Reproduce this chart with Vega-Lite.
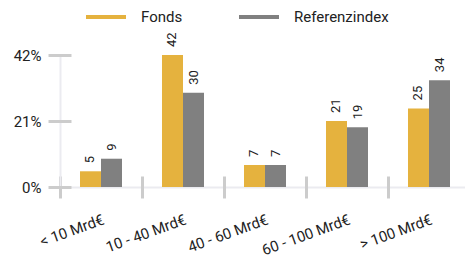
{
  "$schema": "https://vega.github.io/schema/vega-lite/v6.json",
  "autosize": "none",
  "padding": {"left": 60, "top": 55, "right": 0, "bottom": 68},
  "width": 410,
  "height": 132,
  "background": "white",
  "config": {
    "view": {"stroke": null},
    "font": "Roboto",
    "axis": {"grid": false}
  },
  "data": {
    "values": [
      {"cat": "< 10 Mrd€", "series": "Fonds", "value": 5},
      {"cat": "< 10 Mrd€", "series": "Referenzindex", "value": 9},
      {"cat": "10 - 40 Mrd€", "series": "Fonds", "value": 42},
      {"cat": "10 - 40 Mrd€", "series": "Referenzindex", "value": 30},
      {"cat": "40 - 60 Mrd€", "series": "Fonds", "value": 7},
      {"cat": "40 - 60 Mrd€", "series": "Referenzindex", "value": 7},
      {"cat": "60 - 100 Mrd€", "series": "Fonds", "value": 21},
      {"cat": "60 - 100 Mrd€", "series": "Referenzindex", "value": 19},
      {"cat": "> 100 Mrd€", "series": "Fonds", "value": 25},
      {"cat": "> 100 Mrd€", "series": "Referenzindex", "value": 34}
    ]
  },
  "encoding": {
    "x": {"field": "cat", "type": "nominal", "sort": null,
          "scale": {"paddingInner": 0, "paddingOuter": 0}},
    "xOffset": {"field": "series", "type": "nominal",
                "scale": {"paddingInner": 0, "paddingOuter": 0.952}},
    "y": {"field": "value", "type": "quantitative",
          "scale": {"domain": [0, 42], "nice": false}}
  },
  "layer": [
    {
      "mark": {"type": "bar"},
      "encoding": {
        "x": {"field": "cat", "type": "nominal", "sort": null, "title": null,
              "axis": {"orient": "bottom", "ticks": false, "tickSize": 0, "domainColor": "#ebebf0", "domainWidth": 2,
                       "labelAngle": -20, "labelAlign": "right", "labelBaseline": "top",
                       "labelPadding": 25, "labelFont": "Roboto", "labelFontSize": 15,
                       "labelOverlap": false, "labelColor": "#222222"}},
        "y": {"field": "value", "type": "quantitative", "title": null,
              "axis": {"orient": "left", "ticks": false, "tickSize": 0, "values": [0, 21, 42],
                       "labelExpr": "datum.value + '%'", "domainColor": "#ebebf0", "domainWidth": 2,
                       "labelPadding": 19, "labelFontSize": 15, "labelColor": "#222222",
                       "labelFont": "Roboto"}},
        "color": {"field": "series", "type": "nominal", "title": null,
                  "scale": {"domain": ["Fonds", "Referenzindex"], "range": ["#e5b23e", "#808080"]},
                  "legend": {"orient": "none", "direction": "horizontal", "legendX": 24, "legendY": -60,
                             "symbolType": "stroke", "symbolSize": 1600, "symbolStrokeWidth": 4,
                             "labelFontSize": 15, "labelFont": "Roboto", "labelColor": "#222222",
                             "labelOffset": 13, "columnPadding": 48, "padding": 0,
                             "encode": {"symbols": {"update": {"stroke": {"scale": "color", "field": "value"}, "strokeWidth": {"value": 4}}}}}}
      }
    },
    {
      "mark": {"type": "text", "angle": 270, "align": "left", "baseline": "middle", "dx": 8,
               "fontSize": 13, "color": "#222222", "font": "Roboto"},
      "encoding": {
        "x": {"field": "cat", "type": "nominal", "sort": null, "title": null,
              "axis": {"orient": "bottom", "labels": false, "domain": false, "ticks": true, "tickBand": "extent",
                       "tickSize": 22, "offset": -11, "tickColor": "#cccccc", "tickWidth": 3}},
        "y": {"field": "value", "type": "quantitative", "title": null,
              "axis": {"orient": "left", "labels": false, "domain": false, "ticks": true, "values": [0, 21, 42],
                       "tickSize": 23, "offset": -11, "tickColor": "#cccccc", "tickWidth": 3}},
        "text": {"field": "value", "type": "quantitative"}
      }
    }
  ],
  "resolve": {"axis": {"x": "independent", "y": "independent"}}
}
